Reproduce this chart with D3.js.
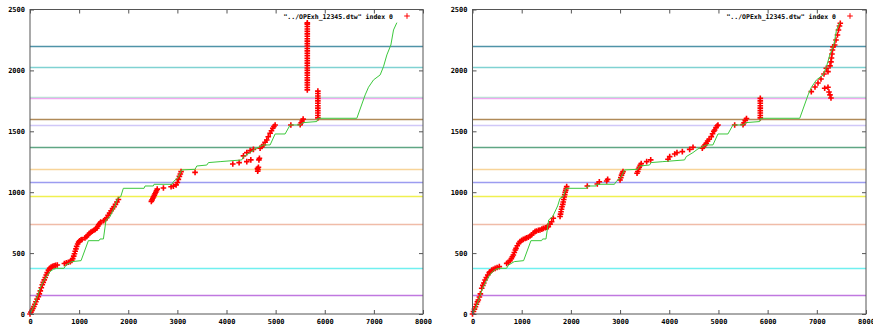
<!DOCTYPE html>
<html>
<head>
<meta charset="utf-8">
<script src="https://cdn.jsdelivr.net/npm/d3@7"></script>
<style>
  body { margin: 0; background: #fff; }
  svg { display: block; }
  .tick text { font-family: "DejaVu Sans Mono", monospace; font-size: 7px; font-weight: bold; fill: #000; }
</style>
</head>
<body>
<script>
// tick labels
const xTicks = [0, 1000, 2000, 3000, 4000, 5000, 6000, 7000, 8000];
const yTicks = [0, 500, 1000, 1500, 2000, 2500];
const legendLabel = '"../OPExh_12345.dtw" index 0';

// horizontal reference levels
const levelValues = [2200, 2025, 1785, 1772, 1605, 1555, 1370, 1190, 1085, 967, 740, 375, 155];
const levelColors = ["#4f93a8", "#80d2d2", "#b0ecd0", "#f0a8f0", "#b08a58", "#d0c8f8", "#5fa684",
                     "#f8d498", "#9c9cf0", "#f0f050", "#f0bca8", "#70f0f0", "#c078e0"];

// green reference path (same in both panels)
const refX = [0, 68, 136, 204, 271, 340, 407, 475, 543, 692, 733, 849, 1039, 1188, 1405, 1426, 1494, 1548,
  1629, 1731, 1779, 1847, 1900, 2322, 2342, 2511, 2525, 2886, 2919, 3021, 3089, 3360, 3395, 3599, 3632,
  3870, 4311, 4345, 4481, 4582, 4752, 4888, 4990, 5193, 5295, 5499, 5554, 5839, 5859, 6653, 6823, 6891,
  6993, 7128, 7196, 7264, 7346, 7400, 7468];
const refY = [0, 55, 129, 211, 265, 312, 348, 367, 375, 375, 402, 430, 438, 602, 602, 616, 616, 772,
  799, 887, 950, 963, 1032, 1032, 1051, 1051, 1065, 1065, 1087, 1123, 1183, 1188, 1215, 1223, 1243,
  1251, 1265, 1292, 1325, 1355, 1388, 1388, 1478, 1478, 1552, 1552, 1571, 1580, 1607, 1607, 1799, 1862,
  1922, 1963, 2031, 2127, 2209, 2332, 2392];

// red points, left panel
const leftX = [0, 20, 40, 60, 80, 100, 120, 145, 170, 190, 210, 230, 250, 270, 290, 310, 330, 350, 375, 400,
  430, 460, 490, 520, 556,
  700, 740, 780, 820, 850, 870, 890, 905, 920, 935, 950, 970, 990, 1010, 1040, 1060,
  1120, 1150, 1180, 1210, 1240, 1270, 1300, 1330, 1360, 1380, 1400, 1420, 1440,
  1500, 1530, 1560, 1590, 1620, 1650, 1680, 1710, 1740, 1770, 1800,
  2470, 2485, 2500, 2515, 2530, 2545, 2560, 2575, 2590,
  2716, 2872, 2919, 2974, 3000, 3020, 3041, 3060, 3075, 3360,
  4128, 4257, 4413, 4495, 4345, 4413, 4481, 4548,
  4670, 4660, 4650, 4630, 4640, 4635,
  4684, 4720, 4752, 4785, 4820, 4850, 4888, 4915, 4942, 4965, 4990,
  5310, 5500, 5520, 5540, 5560,
  5645, 5645, 5645, 5645, 5645, 5645, 5645, 5645, 5645, 5645, 5645, 5645, 5645, 5645,
  5645, 5645, 5645, 5645, 5645, 5645, 5645, 5645, 5645, 5645, 5645, 5645, 5645, 5645, 5645,
  5860, 5860, 5860, 5860, 5860, 5860, 5860, 5860, 5860, 5860, 5860, 5860];
const leftY = [0, 15, 30, 45, 62, 80, 100, 122, 142, 165, 190, 215, 240, 260, 280, 300, 320, 340, 360, 375,
  385, 392, 395, 400, 402,
  415, 420, 425, 430, 440, 455, 475, 495, 515, 535, 555, 575, 590, 600, 610, 612,
  625, 635, 648, 662, 672, 680, 688, 695, 705, 720, 735, 745, 755,
  765, 775, 790, 810, 828, 848, 865, 880, 900, 920, 940,
  925, 937, 950, 962, 975, 987, 1000, 1012, 1025,
  1035, 1045, 1050, 1060, 1080, 1105, 1130, 1150, 1169, 1163,
  1232, 1243, 1251, 1265, 1298, 1325, 1341, 1352,
  1279, 1265, 1205, 1195, 1185, 1172,
  1361, 1375, 1388, 1410, 1429, 1455, 1484, 1505, 1525, 1540, 1552,
  1552, 1555, 1570, 1585, 1600,
  1840, 1860, 1880, 1900, 1920, 1940, 1960, 1980, 2000, 2020, 2040, 2060, 2080, 2100,
  2120, 2140, 2160, 2180, 2200, 2220, 2240, 2260, 2280, 2300, 2320, 2340, 2360, 2380, 2390,
  1610, 1630, 1650, 1670, 1690, 1710, 1730, 1750, 1770, 1790, 1810, 1830];

// red points, right panel
const rightX = [0, 20, 40, 60, 80, 100, 118, 140, 160, 187, 210, 230, 254, 280, 310, 340, 356, 390, 423,
  460, 500, 545,
  695, 730, 762, 790, 810, 830, 850, 870, 885, 910, 940, 966, 1000, 1033, 1070, 1100, 1135, 1170,
  1200, 1240, 1271, 1300, 1340, 1372, 1410, 1440, 1480, 1510, 1541, 1575, 1609, 1643,
  1780, 1790, 1800, 1810, 1820, 1835, 1845, 1855, 1865, 1875, 1885, 1895, 1905, 1915,
  2334, 2537, 2578, 2728, 2748,
  3000, 3015, 3030, 3045, 3060,
  3345, 3360, 3375, 3390, 3410, 3430, 3541, 3623,
  3974, 4009, 4110, 4157, 4266, 4415, 4483,
  4672, 4700, 4730, 4753, 4780, 4810, 4855, 4880, 4905, 4923, 4950, 4975, 4991,
  5330, 5500, 5520, 5545, 5570,
  5851, 5851, 5851, 5851, 5851, 5851, 5851, 5851, 5851,
  6888, 6963, 7024, 7085, 7146, 7193,
  7268, 7288, 7298, 7308, 7318, 7329,
  7363, 7390, 7420, 7440, 7461, 7477,
  7160, 7227, 7248, 7268, 7288, 7227];
const rightY = [0, 20, 40, 60, 80, 100, 115, 140, 165, 211, 235, 255, 279, 300, 320, 340, 347, 360, 367,
  375, 382, 389,
  416, 425, 438, 455, 470, 485, 505, 525, 539, 560, 580, 594, 605, 613, 620, 625, 630, 640,
  650, 665, 676, 682, 688, 690, 697, 703, 708, 712, 717, 738, 758, 786,
  800, 820, 840, 860, 880, 900, 920, 940, 960, 980, 1000, 1015, 1030, 1046,
  1051, 1067, 1086, 1092, 1106,
  1100, 1120, 1140, 1155, 1169,
  1155, 1170, 1190, 1205, 1220, 1235, 1251, 1265,
  1270, 1292, 1314, 1325, 1333, 1352, 1369,
  1361, 1375, 1390, 1402, 1420, 1435, 1456, 1480, 1500, 1511, 1530, 1545, 1552,
  1552, 1555, 1570, 1590, 1605,
  1610, 1630, 1650, 1670, 1690, 1710, 1730, 1750, 1770,
  1826, 1864, 1897, 1930, 1971, 2018,
  2037, 2070, 2102, 2135, 2168, 2193,
  2209, 2250, 2291, 2332, 2365, 2387,
  1854, 1862, 1823, 1799, 1774, 1990];

const W = 873, H = 330;
const svg = d3.select("body").append("svg").attr("width", W).attr("height", H);

const plus = "M-2.8,0H2.8M0,-2.8V2.8";

function drawPanel(left, right, xs, ys, legendEnd) {
  const x = d3.scaleLinear().domain([0, 8000]).range([left, right]);
  const y = d3.scaleLinear().domain([0, 2500]).range([314, 9.5]);
  const g = svg.append("g");

  // horizontal levels
  g.selectAll("line.level")
    .data(levelValues)
    .enter().append("line")
    .attr("class", "level")
    .attr("x1", x(0)).attr("x2", x(8000))
    .attr("y1", d => Math.round(y(d)) + 0.5)
    .attr("y2", d => Math.round(y(d)) + 0.5)
    .attr("stroke", (d, i) => levelColors[i])
    .attr("stroke-width", 1.3);

  // red points
  g.append("g").selectAll("path")
    .data(xs.map((v, i) => [v, ys[i]]))
    .enter().append("path")
    .attr("d", plus)
    .attr("transform", d => `translate(${x(d[0])},${y(d[1])})`)
    .attr("stroke", "#ff0000")
    .attr("stroke-width", 1.6)
    .attr("fill", "none");

  // green reference
  const line = d3.line().x(d => x(d[0])).y(d => y(d[1]));
  g.append("path")
    .datum(refX.map((v, i) => [v, refY[i]]))
    .attr("d", line)
    .attr("fill", "none")
    .attr("stroke", "#3cc83c")
    .attr("stroke-width", 1);

  // border
  g.append("rect")
    .attr("x", x(0)).attr("y", y(2500))
    .attr("width", x(8000) - x(0)).attr("height", y(0) - y(2500))
    .attr("fill", "none").attr("stroke", "#555").attr("stroke-width", 1);

  // axes, ticks inward
  const ax = [
    [d3.axisBottom(x).tickValues(xTicks), `translate(0,${y(0)})`, true],
    [d3.axisTop(x).tickValues(xTicks), `translate(0,${y(2500)})`, false],
    [d3.axisLeft(y).tickValues(yTicks), `translate(${x(0)},0)`, true],
    [d3.axisRight(y).tickValues(yTicks), `translate(${x(8000)},0)`, false]
  ];
  ax.forEach(([a, t, labels]) => {
    a.tickSizeInner(-4).tickSizeOuter(0).tickPadding(5);
    a.tickFormat(labels ? d3.format("d") : "");
    const ag = g.append("g").attr("transform", t).call(a);
    ag.select(".domain").remove();
    ag.selectAll(".tick line").attr("stroke", "#555");
  });

  // legend
  g.append("text")
    .attr("x", legendEnd).attr("y", 18.5)
    .attr("text-anchor", "end")
    .style("font-family", "DejaVu Sans Mono, monospace")
    .style("font-size", "6.5px")
    .style("font-weight", "bold")
    .text(legendLabel);
  g.append("path")
    .attr("d", plus)
    .attr("transform", `translate(${legendEnd + 14},16)`)
    .attr("stroke", "#ff0000").attr("stroke-width", 1).attr("fill", "none");
}

drawPanel(30, 423, leftX, leftY, 393);
drawPanel(472.5, 866, rightX, rightY, 836);
</script>
</body>
</html>
